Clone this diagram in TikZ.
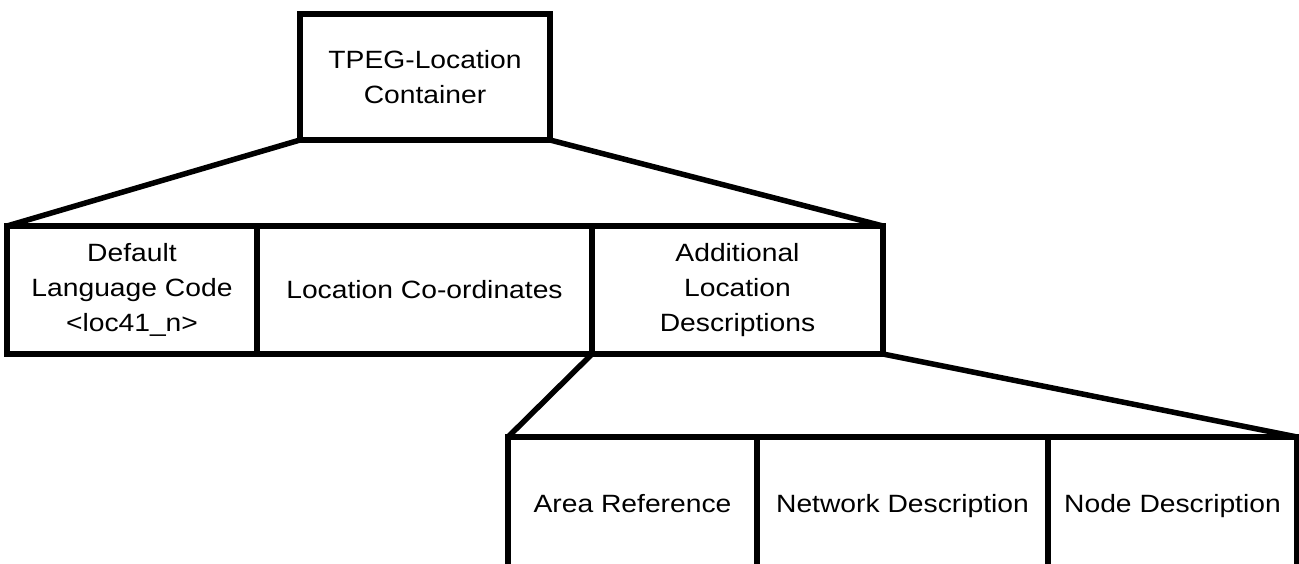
\documentclass[tikz,border=0pt]{standalone}
\usepackage{fontspec}
\setmainfont[FakeStretch=1.13]{Liberation Sans}
\begin{document}
\begin{tikzpicture}[x=1pt,y=-1pt,
  line width=5.5pt,
  box/.style={draw, rectangle, inner sep=0pt, outer sep=0pt, align=center,
              font=\fontsize{25}{35}\selectfont, minimum height=#1},
  box/.default=128pt,
  link/.style={line width=5.5pt, line join=miter}]
\useasboundingbox (0,0) rectangle (1299,563);
\clip (0,0) rectangle (1299,563);

% root container
\node[box=126pt, minimum width=250pt] (root) at (425,77) {TPEG-Location\\Container};

% first level
\node[box, minimum width=250pt] (lang) at (132,290) {Default\\Language Code\\<loc41\_n>};
\node[box, minimum width=335pt] (coord) at (424.5,290) {Location Co-ordinates};
\node[box, minimum width=291pt] (addl) at (737.5,290) {Additional\\Location\\Descriptions};

% second level (open at the bottom)
\node[box=136pt, minimum width=249pt] (area) at (632.5,505) {\strut Area Reference};
\node[box=136pt, minimum width=291pt] (net) at (902.5,505) {\strut Network Description};
\node[box=136pt, minimum width=249pt] (nd) at (1172.5,505) {\strut Node Description};

% fan-out connectors
\draw[link] (root.south west) -- (lang.north west);
\draw[link] (root.south east) -- (addl.north east);
\draw[link] (addl.south west) -- (area.north west);
\draw[link] (addl.south east) -- (nd.north east);
\end{tikzpicture}
\end{document}
